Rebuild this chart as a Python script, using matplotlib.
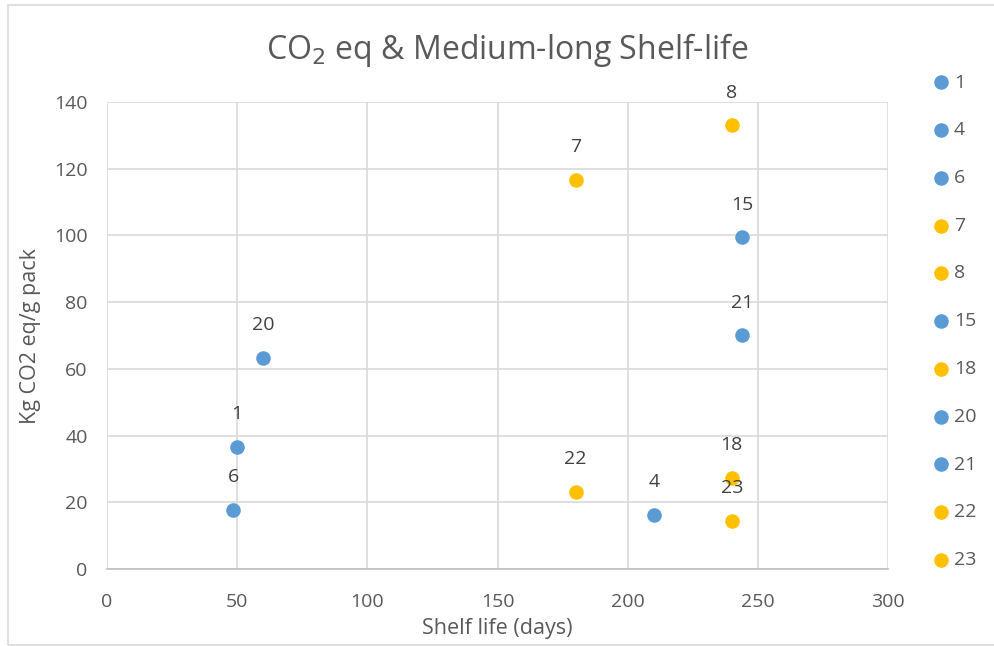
import matplotlib.pyplot as plt
from matplotlib.patches import Rectangle

plt.rcParams['font.family'] = ['Open Sans', 'DejaVu Sans']

# Data
labels = ['1', '4', '6', '7', '8', '15', '18', '20', '21', '22', '23']
shelf_life = [50, 210, 48.5, 180, 240, 244, 240, 60, 244, 180, 240]
co2 = [36.7, 16.2, 17.7, 116.6, 133.0, 99.4, 27.4, 63.3, 70.1, 23.2, 14.4]
groups = ['b', 'b', 'b', 'o', 'o', 'b', 'o', 'b', 'b', 'o', 'o']

colors = {'b': '#5B9BD5', 'o': '#FFC000'}
text_col = '#595959'

fig = plt.figure(figsize=(9.94, 6.46), dpi=100)
ax = fig.add_axes([107 / 994, 1 - 569 / 646, (888 - 107) / 994, (569 - 102) / 646])

for lab, x, y, g in zip(labels, shelf_life, co2, groups):
    ax.scatter(x, y, s=110, color=colors[g], label=lab, zorder=3, linewidths=0)
    ax.annotate(lab, (x, y), xytext=(0, 23.5), textcoords='offset points',
                ha='center', va='center', fontsize=14, color='#404040')

ax.set_xlim(0, 300)
ax.set_ylim(0, 140)
ax.set_xticks(range(0, 301, 50))
ax.set_yticks(range(0, 141, 20))
ax.grid(True, color='#D9D9D9', linewidth=1.2)
ax.set_axisbelow(True)
for s in ['top', 'right', 'left']:
    ax.spines[s].set_visible(False)
ax.spines['bottom'].set_color('#BFBFBF')
ax.spines['bottom'].set_linewidth(1.2)
ax.tick_params(length=0, labelsize=14, labelcolor=text_col)
ax.tick_params(axis='x', pad=17)
ax.tick_params(axis='y', pad=14)

ax.set_xlabel('Shelf life (days)', fontsize=15.5, color=text_col, labelpad=5)
ax.set_ylabel('Kg CO2 eq/g pack', fontsize=15.5, color=text_col, labelpad=9)

fig.text(507 / 994, 1 - 50 / 646, 'CO$_2$ eq & Medium-long Shelf-life',
         ha='center', va='center', fontsize=23, color=text_col)

leg = fig.legend(loc='upper left', bbox_to_anchor=(912 / 994, 1 - 56 / 646),
                 frameon=False, fontsize=14, labelspacing=1.53,
                 handletextpad=0.05, handlelength=1.2, markerscale=1.0)
for t in leg.get_texts():
    t.set_color(text_col)

# chart border
fig.patches.append(Rectangle((8 / 994, 1 - 645 / 646), 1.0, 640 / 646,
                             transform=fig.transFigure, fill=False,
                             edgecolor='#D9D9D9', linewidth=1.2))

fig.savefig('out.png', dpi=100, facecolor='white')
